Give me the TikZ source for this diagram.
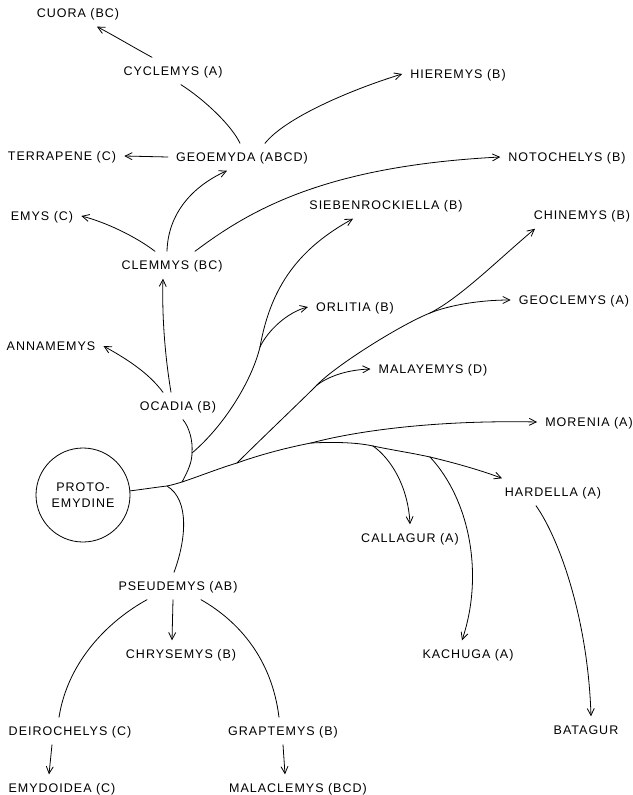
\documentclass[tikz,border=0pt]{standalone}
\usepackage{fontspec}
\newfontfamily\lblfont{Liberation Sans}[LetterSpace=8]
\usetikzlibrary{arrows.meta}
\begin{document}
\begin{tikzpicture}[x=1pt,y=-1pt,
  taxon/.style={font=\lblfont\fontsize{12.5}{16}\selectfont, inner xsep=8pt, inner ysep=9pt,
                text height=9pt, text depth=0pt},
  branch/.style={line width=0.8pt, line cap=round, line join=round},
  arr/.style={branch, -{Straight Barb[length=7pt,width=7pt]}}]
\useasboundingbox (0,0) rectangle (632,795);

% ---- genera ----
\node[taxon] (cuora)           at (78,13)   {CUORA (BC)};
\node[taxon] (cyclemys)        at (173,71)  {CYCLEMYS (A)};
\node[taxon] (hieremys)        at (458,74)  {HIEREMYS (B)};
\node[taxon] (terrapene)       at (62,156)  {TERRAPENE (C)};
\node[taxon] (geoemyda)        at (242,157) {GEOEMYDA (ABCD)};
\node[taxon] (notochelys)      at (567,157) {NOTOCHELYS (B)};
\node[taxon] (emys)            at (42,216)  {EMYS (C)};
\node[taxon] (siebenrockiella) at (386,205) {SIEBENROCKIELLA (B)};
\node[taxon] (chinemys)        at (582,215) {CHINEMYS (B)};
\node[taxon] (clemmys)         at (172,265) {CLEMMYS (BC)};
\node[taxon] (orlitia)         at (355,307) {ORLITIA (B)};
\node[taxon] (geoclemys)       at (574,300) {GEOCLEMYS (A)};
\node[taxon] (annamemys)       at (51,346)  {ANNAMEMYS};
\node[taxon] (malayemys)       at (433,369) {MALAYEMYS (D)};
\node[taxon] (ocadia)          at (178,406) {OCADIA (B)};
\node[taxon] (morenia)         at (589,422) {MORENIA (A)};
\node[taxon] (hardella)        at (553,492) {HARDELLA (A)};
\node[taxon] (callagur)        at (410,538) {CALLAGUR (A)};
\node[taxon] (pseudemys)       at (178,586) {PSEUDEMYS (AB)};
\node[taxon] (kachuga)         at (468,654) {KACHUGA (A)};
\node[taxon] (chrysemys)       at (181,654) {CHRYSEMYS (B)};
\node[taxon] (deirochelys)     at (70,731)  {DEIROCHELYS (C)};
\node[taxon] (graptemys)       at (283,731) {GRAPTEMYS (B)};
\node[taxon] (batagur)         at (586,730) {BATAGUR};
\node[taxon] (emydoidea)       at (62,788)  {EMYDOIDEA (C)};
\node[taxon] (malaclemys)      at (298,788) {MALACLEMYS (BCD)};

% ancestral stock
\node[draw, circle, line width=0.8pt, minimum size=94pt, inner sep=0pt, align=center,
      font=\lblfont\fontsize{12.5}{16.5}\selectfont] (proto) at (83,495) {PROTO-\\EMYDINE};

% ---- forks along the branches ----
\coordinate (forkPseud)  at (167,486);
\coordinate (forkOcad)   at (182,482);
\coordinate (forkChin)   at (237,463);
\coordinate (forkMor)    at (311,443);
\coordinate (forkSieb)   at (192,453);
\coordinate (forkOrl)    at (260,347);
\coordinate (forkMalay)  at (317,385);
\coordinate (forkGeocl)  at (430,313);
\coordinate (forkCall)   at (373,446);
\coordinate (forkKach)   at (430,457);

% ---- main trunk ----
\draw[branch] (proto.5) .. controls (145,489) and (158,487) .. (forkPseud)
  .. controls (172,485) and (177,483.5) .. (forkOcad)
  .. controls (200,476) and (220,468) .. (forkChin)
  .. controls (262,454) and (290,447) .. (forkMor);

% ocadia stem and its descendants
\draw[branch] (forkOcad) .. controls (188,471) and (192,462) .. (forkSieb)
  .. controls (193,440) and (189,427) .. ([xshift=5pt]ocadia.south);
\draw[arr] ([xshift=-7pt]ocadia.north) .. controls (164,350) and (162,310) .. ([xshift=-9pt]clemmys.south);
\draw[arr] ([xshift=-15pt]ocadia.north) .. controls (148,372) and (125,358) .. (annamemys.east);

% clemmys group
\draw[arr] ([xshift=-17pt]clemmys.north) .. controls (135,236) and (105,222) .. (emys.east);
\draw[arr] ([xshift=-5pt]clemmys.north) .. controls (168,213) and (193,186) .. ([xshift=-15pt]geoemyda.south);
\draw[arr] ([xshift=23pt]clemmys.north) .. controls (250,210) and (325,166) .. (notochelys.west);

% geoemyda group
\draw[arr] (geoemyda.west) -- (terrapene.east);
\draw[branch] ([xshift=-2pt]geoemyda.north) .. controls (232,126) and (205,100) .. ([xshift=8pt]cyclemys.south);
\draw[arr] ([xshift=23pt]geoemyda.north) .. controls (285,118) and (350,90) .. (hieremys.west);
\draw[arr] ([xshift=-21pt]cyclemys.north) .. controls (133,47) and (113,35) .. ([xshift=19pt]cuora.south);

% siebenrockiella line
\draw[branch] (forkSieb) .. controls (225,425) and (252,380) .. (forkOrl);
\draw[arr] (forkOrl) .. controls (271,285) and (300,248) .. ([xshift=-33pt]siebenrockiella.south);
\draw[arr] (forkOrl) .. controls (268,330) and (288,312) .. (orlitia.west);

% chinemys line
\draw[branch] (forkChin) .. controls (260,440) and (300,402) .. (forkMalay);
\draw[branch] (forkMalay) .. controls (335,366) and (400,325) .. (forkGeocl);
\draw[arr] (forkGeocl) .. controls (460,298) and (500,258) .. ([xshift=-47pt]chinemys.south);
\draw[arr] (forkMalay) .. controls (328,377) and (345,370) .. (malayemys.west);
\draw[arr] (forkGeocl) .. controls (450,305) and (480,300) .. (geoclemys.west);

% morenia and the batagurine line
\draw[arr] (forkMor) .. controls (360,430) and (440,420) .. (morenia.west);
\draw[branch] (forkMor) .. controls (330,442) and (355,442) .. (forkCall);
\draw[branch] (forkCall) .. controls (392,450) and (412,453) .. (forkKach);
\draw[arr] (forkKach) .. controls (455,463) and (480,470) .. ([xshift=-51pt]hardella.north);
\draw[arr] (forkCall) .. controls (390,458) and (408,485) .. (callagur.north);
\draw[arr] (forkKach) .. controls (470,500) and (484,575) .. ([xshift=-6pt]kachuga.north);
\draw[arr] ([xshift=-17pt]hardella.south) .. controls (560,540) and (588,620) .. ([xshift=5pt]batagur.north);

% pseudemys group
\draw[branch] (forkPseud) .. controls (190,500) and (186,540) .. ([xshift=-4pt]pseudemys.north);
\draw[arr] ([xshift=-5pt]pseudemys.south) -- ([xshift=-9pt]chrysemys.north);
\draw[branch] ([xshift=-31pt]pseudemys.south) .. controls (110,620) and (68,660) .. ([xshift=-11pt]deirochelys.north);
\draw[branch] ([xshift=23pt]pseudemys.south) .. controls (240,622) and (272,660) .. ([xshift=-4pt]graptemys.north);
\draw[arr] ([xshift=-18pt]deirochelys.south) -- ([xshift=-13pt]emydoidea.north);
\draw[arr] (graptemys.south) -- ([xshift=-13pt]malaclemys.north);
\end{tikzpicture}
\end{document}
